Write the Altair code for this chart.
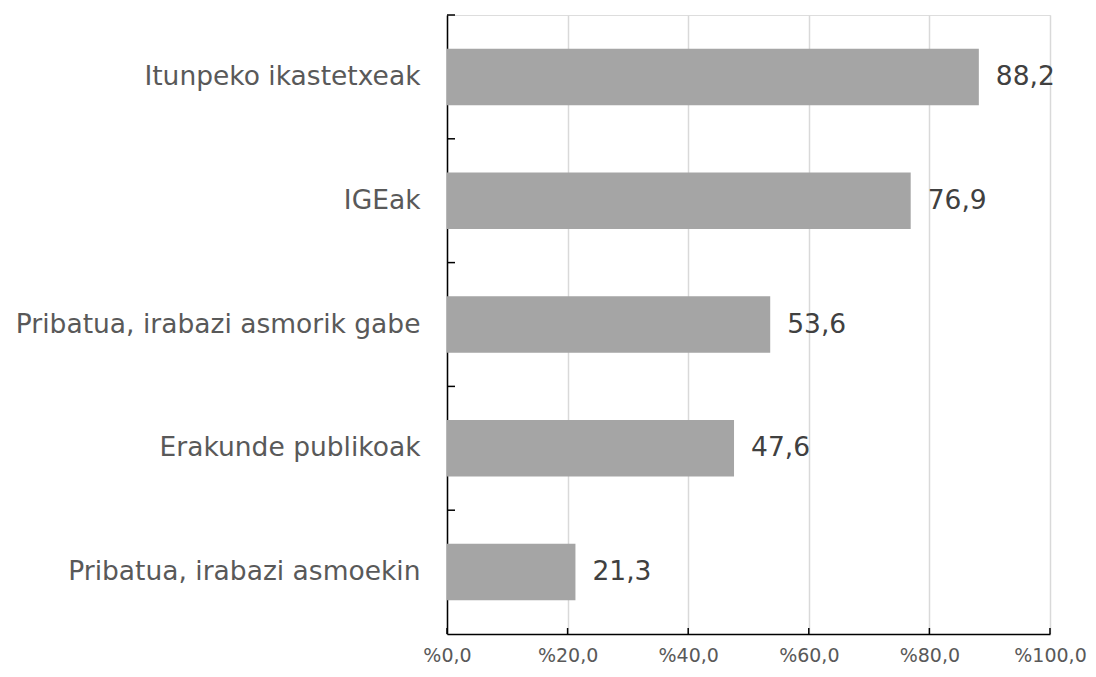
import altair as alt
import pandas as pd

categories = ["Itunpeko ikastetxeak", "IGEak", "Pribatua, irabazi asmorik gabe",
              "Erakunde publikoak", "Pribatua, irabazi asmoekin"]
values = [88.2, 76.9, 53.6, 47.6, 21.3]
x_ticks = [0, 20, 40, 60, 80, 100]

df = pd.DataFrame({"cat": categories, "val": values})
df_ticks = pd.DataFrame({"t": x_ticks})

FONT = "DejaVu Sans"
W, H = 603, 619

yenc = alt.Y("cat:N", sort=categories,
             scale=alt.Scale(paddingInner=0, paddingOuter=0),
             axis=alt.Axis(title=None, ticks=False, labelFontSize=26.5, labelColor="#595959",
                           labelFont=FONT, labelPadding=27, domainColor="#000000",
                           domainWidth=1.5, labelLimit=600))
xscale = alt.Scale(domain=[0, 100], nice=False)

bars = alt.Chart(df).mark_bar(color="#a5a5a5", height={"band": 0.456}).encode(
    x=alt.X("val:Q", scale=xscale,
            axis=alt.Axis(title=None, values=x_ticks, ticks=False, grid=True,
                          gridColor="#d9d9d9", gridWidth=1.5, labelFlush=False,
                          labelOverlap=False,
                          labelExpr='"%" + replace(format(datum.value, ".1f"), ".", ",")',
                          labelFontSize=19, labelColor="#595959", labelFont=FONT,
                          labelPadding=12, domainColor="#000000", domainWidth=1.5)),
    y=yenc,
)

text = alt.Chart(df).transform_calculate(
    lbl='replace(format(datum.val, ".1f"), ".", ",")'
).mark_text(align="left", baseline="middle", dx=17, fontSize=26.5, color="#404040", font=FONT).encode(
    x=alt.X("val:Q", scale=xscale),
    y=alt.Y("cat:N", sort=categories),
    text="lbl:N",
)

yticks = alt.Chart(df).mark_rule(color="#000000", strokeWidth=1.5).encode(
    y=alt.Y("cat:N", sort=categories, bandPosition=0),
    x=alt.value(0),
    x2=alt.value(8),
)

xticks = alt.Chart(df_ticks).mark_rule(color="#000000", strokeWidth=1.5).encode(
    x=alt.X("t:Q", scale=xscale),
    y=alt.value(H),
    y2=alt.value(H - 6),
)

chart = alt.layer(bars, text, yticks, xticks).properties(
    width=W, height=H,
    autosize=alt.AutoSizeParams(type="none"),
    padding={"left": 439, "top": 7, "right": 38, "bottom": 35},
).configure_view(stroke=None).configure(background="white")

chart.save("out.html", embed_options={"renderer": "svg", "actions": False})
